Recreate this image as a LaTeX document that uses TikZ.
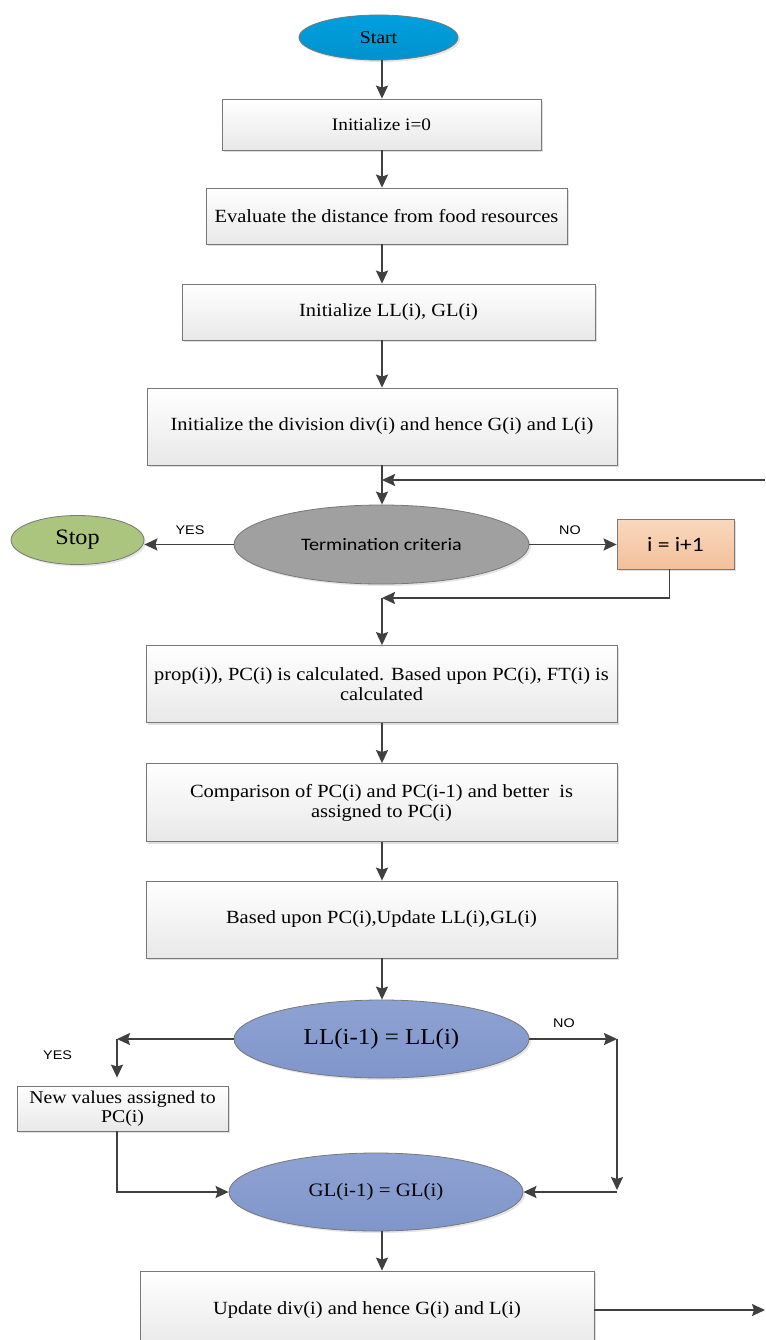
\documentclass[tikz,border=0pt]{standalone}
\usepackage{fontspec}
\setmainfont[FakeStretch=1.1]{Liberation Serif}
\newfontfamily\calib[FakeStretch=1.15]{Carlito}
\newfontfamily\lblfont[FakeStretch=1.15]{Liberation Sans}
\usetikzlibrary{arrows.meta,shapes.geometric,shadows,calc}
\definecolor{linec}{RGB}{64,64,64}
\definecolor{boxline}{RGB}{120,120,120}
\definecolor{boxbot}{RGB}{232,232,232}
\definecolor{startc}{RGB}{0,160,222}
\definecolor{startd}{RGB}{0,146,205}
\definecolor{stopc}{RGB}{172,197,126}
\definecolor{termc}{RGB}{160,160,160}
\definecolor{inctop}{RGB}{249,216,190}
\definecolor{incbot}{RGB}{243,192,155}
\definecolor{llc}{RGB}{142,162,210}
\definecolor{lld}{RGB}{128,149,202}
\tikzset{
  arr/.style={draw=linec, line width=1.8pt, -{Stealth[length=13pt,width=12pt,inset=2pt]}},
  procbox/.style={rectangle, draw=boxline, line width=0.8pt, top color=white, bottom color=boxbot,
     inner sep=0pt, align=center, drop shadow={shadow xshift=2pt, shadow yshift=-2pt, opacity=0.25}},
  ovalnode/.style={ellipse, draw=boxline, line width=0.8pt, inner sep=0pt, align=center,
     drop shadow={shadow xshift=2pt, shadow yshift=-2pt, opacity=0.2}},
  boxtext/.style={font=\fontsize{18.6}{20}\selectfont},
  yn/.style={font=\lblfont\fontsize{12.5}{13}\selectfont, inner sep=0pt}
}
\begin{document}
\begin{tikzpicture}[x=1pt,y=-1pt]
\useasboundingbox (0,0) rectangle (765,1340);
\fill[white] (0,0) rectangle (765,1340);

\coordinate (col) at (382,0);

\node[ovalnode, top color=startc, bottom color=startd, minimum width=159pt, minimum height=45pt,
  font=\fontsize{18}{20}\selectfont] (start) at (378.5,37.5) {Start};
\node[procbox, minimum width=319pt, minimum height=51pt, font=\fontsize{17.5}{20}\selectfont]
  (init) at (381.5,124.5) {Initialize i=0};
\node[procbox, boxtext, minimum width=361pt, minimum height=56pt]
  (eval) at (386.5,216) {Evaluate the distance from food resources};
\node[procbox, boxtext, minimum width=413pt, minimum height=56pt]
  (initll) at (388.5,312) {Initialize LL(i), GL(i)};
\node[procbox, boxtext, minimum width=470pt, minimum height=77pt]
  (initdiv) at (382,426.5) {Initialize the division div(i) and hence G(i) and L(i)};

\node[ovalnode, fill=termc, minimum width=295pt, minimum height=79pt,
  font=\calib\fontsize{17.5}{20}\selectfont] (term) at (381.5,544.5) {Termination criteria};
\node[ovalnode, fill=stopc, minimum width=133pt, minimum height=49pt,
  font=\fontsize{22}{24}\selectfont] (stop) at (77.5,540) {Stop};
\node[procbox, top color=inctop, bottom color=incbot, minimum width=117pt, minimum height=50pt,
  font=\calib\fontsize{20.5}{22}\selectfont] (inc) at (675.5,544) {i = i+1};

\node[procbox, boxtext, minimum width=471pt, minimum height=77pt]
  (prop) at (381.5,684) {prop(i)), PC(i) is calculated. Based upon PC(i), FT(i) is\\calculated};
\node[procbox, boxtext, minimum width=471pt, minimum height=78pt]
  (comp) at (381.5,802.5) {Comparison of PC(i) and PC(i-1) and better\ \ is\\assigned to PC(i)};
\node[procbox, boxtext, minimum width=471pt, minimum height=77pt]
  (based) at (381.5,919.5) {Based upon PC(i),Update LL(i),GL(i)};

\node[ovalnode, top color=llc, bottom color=lld, minimum width=295pt, minimum height=78pt,
  font=\fontsize{22.7}{24}\selectfont] (ll) at (381.5,1039) {LL(i-1) = LL(i)};
\node[procbox, minimum width=211pt, minimum height=45pt, font=\fontsize{18}{19}\selectfont]
  (newv) at (122.5,1108.5) {New values assigned to\\PC(i)};
\node[ovalnode, top color=llc, bottom color=lld, minimum width=294pt, minimum height=78pt,
  font=\fontsize{19}{21}\selectfont] (gl) at (376,1192) {GL(i-1) = GL(i)};
\node[procbox, boxtext, minimum width=454pt, minimum height=78pt]
  (upd) at (367,1310) {Update div(i) and hence G(i) and L(i)};

% labels
\node[yn] (yes1) at (190,530) {YES};
\node[yn] (no1) at (570,530) {NO};
\node[yn] (yes2) at (57.6,1055) {YES};
\node[yn] (no2) at (564,1023) {NO};

% main column
\draw[arr] (start.south -| col) -- (init.north -| col);
\draw[arr] (init.south -| col) -- (eval.north -| col);
\draw[arr] (eval.south -| col) -- (initll.north -| col);
\draw[arr] (initll.south -| col) -- (initdiv.north -| col);
\draw[arr] (initdiv.south -| col) -- (term.north -| col);

\coordinate (loopin) at (765,480);
\draw[arr] (loopin) -- (loopin -| col);

\draw[arr] (term.west) -- (term.west -| stop.east);
\draw[arr] (term.east) -- (term.east -| inc.west);

\coordinate (merge) at (382,598);
\draw[arr] ([xshift=-6pt]inc.south) |- (merge);
\draw[arr] (merge) -- (prop.north -| col);

\draw[arr] (prop.south -| col) -- (comp.north -| col);
\draw[arr] (comp.south -| col) -- (based.north -| col);
\draw[arr] (based.south -| col) -- (ll.north -| col);

\coordinate (yesc) at (117,1039);
\draw[arr] (ll.west) -- (yesc);
\draw[arr, shorten >=8pt] (yesc) -- (yesc |- newv.north);
\draw[arr] (newv.south -| yesc) |- (gl.west);

\coordinate (noc) at (617,1039);
\draw[arr] (ll.east) -- (noc);
\draw[arr] (noc) -- ([yshift=2pt]noc |- gl.east);
\draw[arr] (noc |- gl.east) -- (gl.east);

\draw[arr] (gl.south -| col) -- (upd.north -| col);
\coordinate (updout) at (765,1310);
\draw[arr] (upd.east) -- (updout);
\end{tikzpicture}
\end{document}
